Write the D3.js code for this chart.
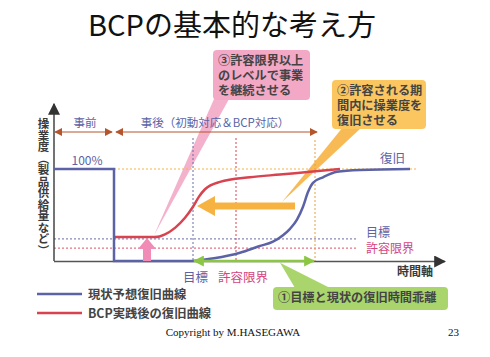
<!DOCTYPE html>
<html><head><meta charset="utf-8">
<script src="https://cdn.jsdelivr.net/npm/d3@7"></script>
<style>
html,body{margin:0;padding:0;background:#fff;}
svg{display:block;}
text{font-family:"Noto Sans CJK JP","Noto Sans",sans-serif;}
.co{font-family:"Noto Sans CJK JP","Noto Sans",sans-serif;font-weight:bold;color:#444;margin:0;padding:0;white-space:nowrap;}
</style></head>
<body><svg id="c" width="490" height="357"></svg>
<script>
// ---- data ----
const title = "BCPの基本的な考え方";
const blueCurve = [[0,100],[60,100],[60,0],[139,0],[160,3],[186,9],[205,16],[219,21],[229,28],[236,35],[243,45],[249,59],[254,75],[259,85],[269,91],[283,97],[306,99],[356,100]];
const redCurve = [[60,26],[101,26],[111,29],[121,36],[131,47],[139,59],[145,70],[151,78],[166,86],[196,91],[226,94],[256,97],[286,100]];
const levelTarget = 24, levelLimit = 14, levelFull = 100;
const tDisaster = 60, tTarget = 139, tLimit = 182, tCurrent = 261, tEnd = 391;
const yLabel = "操業度（製品供給量など）";
const legendLabels = ["現状予想復旧曲線","BCP実践後の復旧曲線"];
const callout1 = ["①目標と現状の復旧時間乖離"];
const callout2 = ["②許容される期","間内に操業度を","復旧させる"];
const callout3 = ["③許容限界以上","のレベルで事業","を継続させる"];

const svg = d3.select("#c");
const x = d3.scaleLinear().domain([0, tEnd]).range([54, 445]);
const y = d3.scaleLinear().domain([0, 100]).range([261, 169]);

const BLUE="#5b63a6", RED="#d8434f", ORANGE="#f7b342", PINK="#f3a9c6", GREEN="#8dc643", BROWN="#b5552c", DARK="#3a3a3a";

// title
svg.append("text").attr("x",232).attr("y",36).attr("text-anchor","middle")
  .attr("font-size",29).attr("fill","#111").text(title);

const defs = svg.append("defs");
function marker(id,color,size){
  defs.append("marker").attr("id",id).attr("viewBox","0 0 10 10").attr("refX",9).attr("refY",5)
    .attr("markerWidth",size).attr("markerHeight",size).attr("orient","auto-start-reverse")
    .attr("markerUnits","userSpaceOnUse")
    .append("path").attr("d","M0,0L10,5L0,10z").attr("fill",color);
}
marker("mb",BROWN,8); marker("mg",GREEN,11); marker("mk","#333",12);

// callout pointers (behind)
svg.append("path").attr("d",`M214,99L229,99L${x(100)},${y(28)}Z`).attr("fill",PINK).attr("opacity",0.9);
svg.append("path").attr("d",`M343,127L362,127L${x(228)},${y(64)}Z`).attr("fill",ORANGE).attr("opacity",0.9);
svg.append("path").attr("d",`M295,288L330,288L${x(226)},${y(-2)}Z`).attr("fill","#a9d56c");

// reference dotted lines
const g = svg.append("g");
g.append("line").attr("x1",x(0)).attr("x2",x(304)).attr("y1",y(levelTarget)).attr("y2",y(levelTarget))
  .attr("stroke","#6a6aa8").attr("stroke-width",1).attr("stroke-dasharray","2,2");
g.append("line").attr("x1",x(0)).attr("x2",x(304)).attr("y1",y(levelLimit)).attr("y2",y(levelLimit))
  .attr("stroke","#e0506a").attr("stroke-width",1).attr("stroke-dasharray","2,2");
g.append("line").attr("x1",x(tDisaster)).attr("x2",x(364)).attr("y1",y(levelFull)).attr("y2",y(levelFull))
  .attr("stroke",ORANGE).attr("stroke-width",1).attr("stroke-dasharray","2,2");
[[tTarget,"#6a6aa8",138],[tLimit,"#d8434f",138],[tCurrent,"#e8a040",140]].forEach(([t,c,top])=>{
  g.append("line").attr("x1",x(t)).attr("x2",x(t)).attr("y1",top).attr("y2",y(0))
   .attr("stroke",c).attr("stroke-width",1).attr("stroke-dasharray","2,2");
});

// axes
svg.append("line").attr("x1",x(0)).attr("x2",x(0)).attr("y1",y(0)).attr("y2",104)
  .attr("stroke","#444").attr("stroke-width",1.5).attr("marker-end","url(#mk)");
svg.append("line").attr("x1",x(0)).attr("x2",x(tEnd)).attr("y1",y(0)+0.5).attr("y2",y(0)+0.5)
  .attr("stroke","#555").attr("stroke-width",1.5).attr("marker-end","url(#mk)");

// before/after arrows
svg.append("line").attr("x1",x(1)).attr("x2",x(58)).attr("y1",132).attr("y2",132)
  .attr("stroke",BROWN).attr("stroke-width",1).attr("marker-start","url(#mb)").attr("marker-end","url(#mb)");
svg.append("line").attr("x1",x(62)).attr("x2",x(263)).attr("y1",132).attr("y2",132)
  .attr("stroke",BROWN).attr("stroke-width",1).attr("marker-start","url(#mb)").attr("marker-end","url(#mb)");
svg.append("text").attr("x",85).attr("y",127).attr("text-anchor","middle").attr("font-size",11.5).attr("fill",BLUE).text("事前");
svg.append("text").attr("x",215).attr("y",127).attr("text-anchor","middle").attr("font-size",11.5).attr("fill",BLUE).text("事後（初動対応＆BCP対応）");

// curves
const lineS = d3.line().x(d=>x(d[0])).y(d=>y(d[1])).curve(d3.curveMonotoneX);
const lineL = d3.line().x(d=>x(d[0])).y(d=>y(d[1]));
svg.append("path").datum(redCurve).attr("d",lineS).attr("fill","none")
  .attr("stroke",RED).attr("stroke-width",2.5);
svg.append("path").datum(blueCurve.slice(0,4)).attr("d",lineL).attr("fill","none")
  .attr("stroke",BLUE).attr("stroke-width",2.5);
svg.append("path").datum(blueCurve.slice(3)).attr("d",lineS).attr("fill","none")
  .attr("stroke",BLUE).attr("stroke-width",2.5);

// green double arrow
svg.append("line").attr("x1",x(tTarget)+1).attr("x2",x(tCurrent)-1).attr("y1",y(0)).attr("y2",y(0))
  .attr("stroke",GREEN).attr("stroke-width",2.5).attr("marker-start","url(#mg)").attr("marker-end","url(#mg)");

// big orange arrow (pointing left)
const oy = 206, ox1 = 197, ox2 = 295;
svg.append("path").attr("d",`M${ox1},${oy}L${ox1+18},${oy-10}L${ox1+18},${oy-3.5}L${ox2},${oy-3.5}L${ox2},${oy+3.5}L${ox1+18},${oy+3.5}L${ox1+18},${oy+10}Z`)
  .attr("fill",ORANGE);

// pink up arrow
const px = x(93), ptop = y(26)+1, pbot = y(0);
svg.append("path").attr("d",`M${px},${ptop}L${px+9},${ptop+11}L${px+4},${ptop+11}L${px+4},${pbot}L${px-4},${pbot}L${px-4},${ptop+11}L${px-9},${ptop+11}Z`)
  .attr("fill","#f08cb6");

// labels
svg.append("text").attr("x",87).attr("y",165).attr("text-anchor","middle").attr("font-size",12).attr("fill",BLUE).text("100%");
svg.append("text").attr("x",380).attr("y",163).attr("font-size",12.5).attr("fill",BLUE).text("復旧");
svg.append("text").attr("x",366).attr("y",237).attr("font-size",12).attr("fill",BLUE).text("目標");
svg.append("text").attr("x",366).attr("y",253).attr("font-size",12).attr("fill","#d4457e").text("許容限界");
svg.append("text").attr("x",183).attr("y",282).attr("font-size",12.5).attr("fill",BLUE).text("目標");
svg.append("text").attr("x",218).attr("y",282).attr("font-size",12.5).attr("fill","#d4457e").text("許容限界");
svg.append("text").attr("x",397).attr("y",276).attr("font-size",12).attr("font-weight","bold").attr("fill",DARK).text("時間軸");

// y label vertical (single text element, vertical writing mode)
svg.append("text").attr("x",43.5).attr("y",118).attr("font-size",11.5).attr("font-weight","bold").attr("fill",DARK)
  .style("writing-mode","vertical-rl").style("text-orientation","mixed").text(yLabel);

// callout boxes (multi-line text as HTML block inside foreignObject)
function box(x0,y0,w,h,fill,lines,top,lh){
  svg.append("rect").attr("x",x0).attr("y",y0).attr("width",w).attr("height",h).attr("rx",4).attr("fill",fill);
  const fo = svg.append("foreignObject").attr("x",x0+5).attr("y",top).attr("width",w).attr("height",lh*lines.length+4);
  fo.append("xhtml:div").attr("class","co").style("font-size","12.2px").style("line-height",lh+"px")
    .html(lines.join("<br>"));
}
box(213,50,97,50,PINK,callout3,52.5,15);
box(332,80,94,49,"#fbc660",callout2,83,14.8);
box(273,287,175,23,"#a9d56c",callout1,290,15);

// legend
svg.append("line").attr("x1",37).attr("x2",82).attr("y1",294).attr("y2",294).attr("stroke",BLUE).attr("stroke-width",2.5);
svg.append("line").attr("x1",37).attr("x2",82).attr("y1",313).attr("y2",313).attr("stroke",RED).attr("stroke-width",2.5);
svg.append("text").attr("x",88).attr("y",299).attr("font-size",12.3).attr("font-weight","bold").attr("fill","#444").text(legendLabels[0]);
svg.append("text").attr("x",88).attr("y",318).attr("font-size",12.3).attr("font-weight","bold").attr("fill","#444").text(legendLabels[1]);

// footer
svg.append("text").attr("x",233).attr("y",336).attr("text-anchor","middle").attr("font-size",11)
  .style("font-family","'Liberation Serif',serif").attr("fill","#111").text("Copyright by M.HASEGAWA");
svg.append("text").attr("x",448).attr("y",336).attr("font-size",11)
  .style("font-family","'Liberation Serif',serif").attr("fill","#111").text("23");
</script></body></html>
